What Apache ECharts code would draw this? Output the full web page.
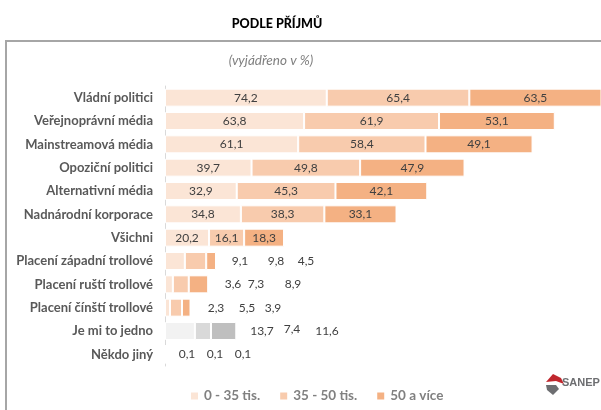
<!DOCTYPE html>
<html>
<head>
<meta charset="utf-8">
<script src="https://cdn.jsdelivr.net/npm/echarts@6/dist/echarts.min.js"></script>
<style>
  html, body { margin: 0; padding: 0; background: #fff; }
  #chart { width: 601px; height: 410px; }
</style>
</head>
<body>
<div id="chart"></div>
<script>
const categories = [
  'Vládní politici', 'Veřejnoprávní média', 'Mainstreamová média', 'Opoziční politici',
  'Alternativní média', 'Nadnárodní korporace', 'Všichni', 'Placení západní trollové',
  'Placení ruští trollové', 'Placení čínští trollové', 'Je mi to jedno', 'Někdo jiný'
];
const seriesNames = ['0 - 35 tis.', '35 - 50 tis.', '50 a více'];
const low  = [74.2, 63.8, 61.1, 39.7, 32.9, 34.8, 20.2, 9.1, 3.6, 2.3, 13.7, 0.1];
const mid  = [65.4, 61.9, 58.4, 49.8, 45.3, 38.3, 16.1, 9.8, 7.3, 5.5, 7.4, 0.1];
const high = [63.5, 53.1, 49.1, 47.9, 42.1, 33.1, 18.3, 4.5, 8.9, 3.9, 11.6, 0.1];

const values = [low, mid, high];
const colors = ['#FBE5D6', '#F8CBAD', '#F4B183'];
const grays = ['#F2F2F2', '#D9D9D9', '#BFBFBF'];
const grayRow = 10;

// Excel placed the labels of the short bars by hand: pixel centre x (and y shift) per series
const outsideLabels = {
  7:  [[240, 0], [276, 0], [306, 0]],
  8:  [[233, 0], [256, 0], [293, 0]],
  9:  [[216, 0], [247, 0], [273, 0]],
  10: [[262, 0], [292, -2], [327, 0]],
  11: [[187, 0], [215, 0], [243, 0]]
};

const FONT = 'Lato';
const fmt = (v) => v.toFixed(1).replace('.', ',');

const chart = echarts.init(document.getElementById('chart'));

function buildSeries(offsets) {
  return values.map((arr, s) => ({
    name: seriesNames[s],
    type: 'bar',
    stack: 'total',
    barWidth: 18,
    itemStyle: { color: colors[s], borderColor: '#fff', borderWidth: 1 },
    label: {
      show: true,
      position: 'inside',
      color: '#404040',
      fontFamily: FONT,
      fontSize: 12,
      formatter: (p) => fmt(p.value)
    },
    data: arr.map((v, r) => {
      const item = { value: v };
      if (r === grayRow) item.itemStyle = { color: grays[s] };
      if (offsets && offsets[r]) item.label = { offset: offsets[r][s] };
      return item;
    })
  }));
}

const option = {
  animation: false,
  textStyle: { fontFamily: FONT },
  title: [
    {
      text: 'PODLE PŘÍJMŮ',
      left: 272, top: 12, textAlign: 'center',
      textStyle: { fontFamily: FONT, fontSize: 12.5, fontWeight: 900, color: '#000' }
    },
    {
      text: '(vyjádřeno v %)',
      left: 266, top: 49, textAlign: 'center',
      textStyle: { fontFamily: FONT, fontSize: 13.5, fontStyle: 'italic', fontWeight: 'normal', color: '#7F7F7F' }
    }
  ],
  legend: {
    left: 189, top: 389, padding: 0,
    itemWidth: 9, itemHeight: 9, itemGap: 18,
    icon: 'rect',
    data: seriesNames,
    textStyle: { fontFamily: FONT, fontSize: 13.5, fontWeight: 'bold', color: '#808080' }
  },
  grid: { left: 165, top: 86, width: 436, height: 280 },
  xAxis: {
    type: 'value', min: 0, max: 200, show: false
  },
  yAxis: {
    type: 'category',
    data: categories,
    inverse: true,
    axisTick: { show: false },
    axisLine: { show: true, lineStyle: { color: '#D9D9D9', width: 1 } },
    axisLabel: { margin: 12, color: '#595959', fontFamily: FONT, fontSize: 13, fontWeight: 'bold' }
  },
  graphic: [
    { type: 'line', shape: { x1: 5, y1: 41, x2: 601, y2: 41 }, style: { stroke: '#A6A6A6', lineWidth: 2 } },
    { type: 'line', shape: { x1: 6, y1: 40, x2: 6, y2: 410 }, style: { stroke: '#A6A6A6', lineWidth: 2 } },
    { type: 'polygon', shape: { points: [[546, 382], [553, 374], [561, 378], [564, 384], [556, 381]] }, style: { fill: '#C0272D' } },
    { type: 'polygon', shape: { points: [[546, 385], [556, 385], [559, 389], [553, 395], [547, 390]] }, style: { fill: '#6D6E71' } },
    { type: 'text', left: 562, top: 377, style: { text: 'SANEP', fill: '#6D6E71', font: 'bold 11px "Liberation Sans"' } }
  ],
  series: buildSeries(null)
};

chart.setOption(option);

// turn the hand-placed label centres into offsets from each segment centre
const offsets = {};
Object.keys(outsideLabels).forEach((key) => {
  const r = Number(key);
  let start = 0;
  offsets[r] = values.map((arr, s) => {
    const v = arr[r];
    const cx = chart.convertToPixel({ xAxisIndex: 0 }, start + v / 2);
    start += v;
    const t = outsideLabels[r][s];
    return [t[0] - cx, t[1]];
  });
});
chart.setOption({ series: buildSeries(offsets) });
</script>
</body>
</html>
